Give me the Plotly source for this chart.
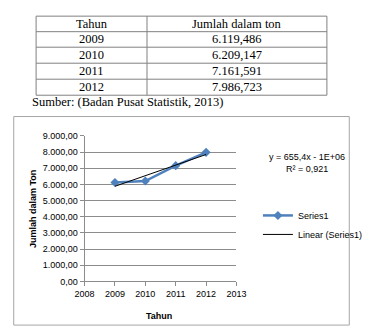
import numpy as np
import plotly.graph_objects as go

years = [2009, 2010, 2011, 2012]
values = [6119.486, 6209.147, 7161.591, 7986.723]
table_values = ["6.119,486", "6.209,147", "7.161,591", "7.986,723"]
header = ["Tahun", "Jumlah dalam ton"]
source_text = "Sumber: (Badan Pusat Statistik, 2013)"
x_ticks = [2008, 2009, 2010, 2011, 2012, 2013]
y_ticks = [0, 1000, 2000, 3000, 4000, 5000, 6000, 7000, 8000, 9000]

W, H = 368, 333
def px(x): return x / W
def py(y): return 1 - y / H

# linear trend
slope, intercept = np.polyfit(years, values, 1)
fit = np.polyval([slope, intercept], years)
r2 = 1 - np.sum((np.array(values) - fit) ** 2) / np.sum((np.array(values) - np.mean(values)) ** 2)
eq_text = f"y = {slope:.1f}x - 1E+06".replace(".", ",") + "<br>R² = " + f"{r2:.3f}".replace(".", ",")

fig = go.Figure()
fig.add_trace(go.Scatter(x=years, y=values, mode="lines+markers", name="Series1",
                         line=dict(color="#4F81BD", width=2.5),
                         marker=dict(symbol="diamond", size=7, color="#4F81BD")))
fig.add_trace(go.Scatter(x=[years[0], years[-1]], y=[fit[0], fit[-1]], mode="lines",
                         name="Linear (Series1)", line=dict(color="black", width=1)))

shapes = []
# chart frame
shapes.append(dict(type="rect", xref="paper", yref="paper", x0=px(4), x1=px(364), y0=py(330), y1=py(115),
                   line=dict(color="#A6A6A6", width=1), layer="below"))
# table lines
tl, tr, tm = 28, 340, 147
rows_y = [11.5, 27.5, 43.5, 60, 76.5, 93]
for yy in rows_y:
    shapes.append(dict(type="line", xref="paper", yref="paper", x0=px(tl), x1=px(tr), y0=py(yy), y1=py(yy),
                       line=dict(color="#808080", width=1)))
for xx in [tl, tm, tr]:
    shapes.append(dict(type="line", xref="paper", yref="paper", x0=px(xx), x1=px(xx), y0=py(rows_y[0]), y1=py(rows_y[-1]),
                       line=dict(color="#808080", width=1)))

serif = dict(family="Liberation Serif", size=12.5, color="black")
sans = dict(family="Liberation Sans", size=9, color="black")
ann = []
cells = [header] + [[str(y), v] for y, v in zip(years, table_values)]
for i, (c1, c2) in enumerate(cells):
    yc = (rows_y[i] + rows_y[i + 1]) / 2
    ann.append(dict(text=c1, x=px((tl + tm) / 2), y=py(yc), xref="paper", yref="paper", showarrow=False,
                    font=serif, xanchor="center", yanchor="middle"))
    ann.append(dict(text=c2, x=px((tm + tr) / 2), y=py(yc), xref="paper", yref="paper", showarrow=False,
                    font=serif, xanchor="center", yanchor="middle"))
ann.append(dict(text=source_text, x=px(21), y=py(100.5), xref="paper", yref="paper", showarrow=False,
                font=serif, xanchor="left", yanchor="middle"))
ann.append(dict(text=eq_text, x=px(319), y=py(163), xref="paper", yref="paper", showarrow=False,
                font=sans, xanchor="center", yanchor="middle"))
ann.append(dict(text="<b>Jumlah dalam Ton</b>", x=px(24), y=py(210), xref="paper", yref="paper", showarrow=False,
                textangle=-90, font=sans, xanchor="center", yanchor="middle"))
ann.append(dict(text="<b>Tahun</b>", x=px(160), y=py(321), xref="paper", yref="paper", showarrow=False,
                font=sans, xanchor="center", yanchor="middle"))

fig.update_layout(
    width=W, height=H, margin=dict(l=0, r=0, t=0, b=0),
    paper_bgcolor="white", plot_bgcolor="white",
    separators=",.",
    shapes=shapes, annotations=ann,
    font=sans,
    xaxis=dict(domain=[px(80), px(243)], range=[2008, 2013], tickvals=x_ticks, tickformat="d",
               showgrid=False, showline=True, linecolor="#8C8C8C", ticks="outside", ticklen=4,
               tickcolor="#8C8C8C", zeroline=False, fixedrange=True, tickfont=sans),
    yaxis=dict(domain=[py(285), py(135)], range=[0, 9000], tickvals=y_ticks, tickformat=",.2f",
               showgrid=True, gridcolor="#8C8C8C", gridwidth=1, showline=True, linecolor="#8C8C8C",
               ticks="outside", ticklen=4, tickcolor="#8C8C8C", zeroline=False, fixedrange=True,
               tickfont=sans),
    legend=dict(x=px(266), y=py(202), xanchor="left", yanchor="top", bgcolor="rgba(0,0,0,0)",
                font=sans, itemwidth=30, tracegroupgap=2),
    showlegend=True,
)

fig.write_html("out.html")
